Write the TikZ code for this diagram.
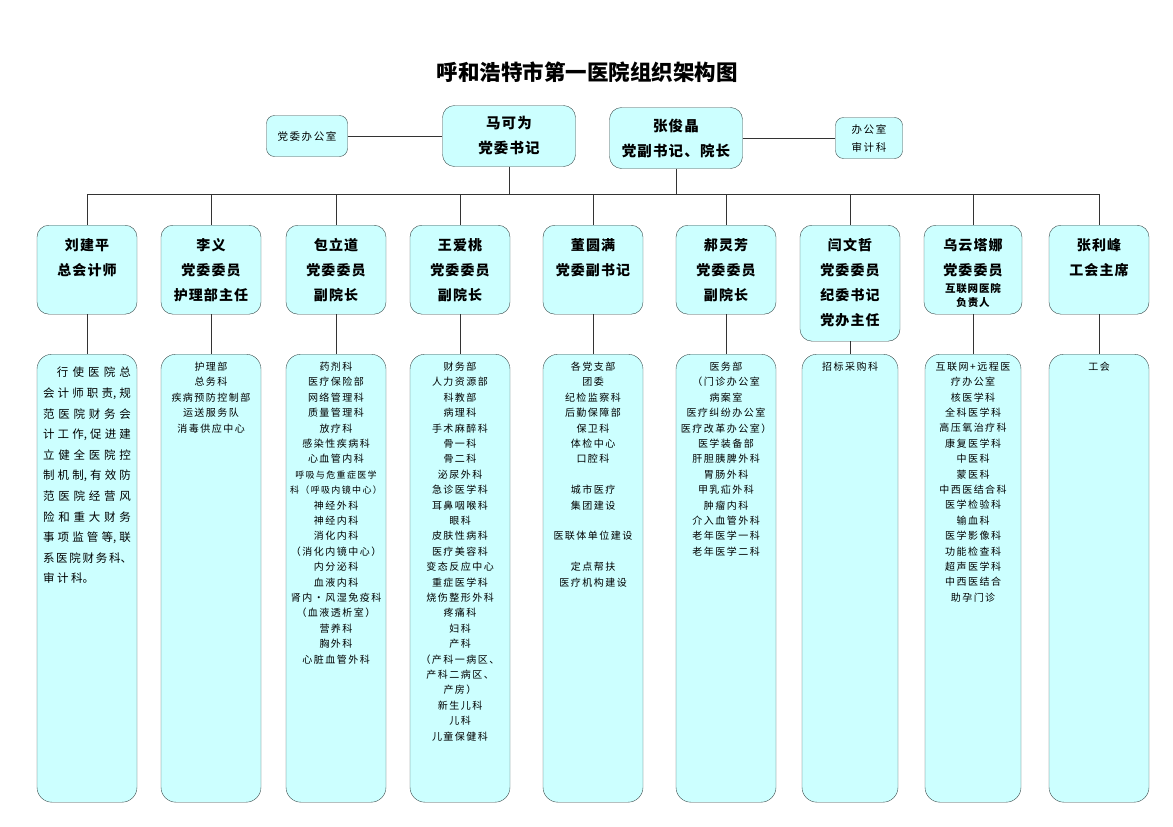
\documentclass[tikz,border=0pt]{standalone}
\usepackage{fontspec}
\setmainfont{Noto Sans CJK SC}
\newfontfamily\bodyfont[LetterSpace=15]{Noto Sans CJK SC}
\newfontfamily\headfont[LetterSpace=8]{Noto Sans CJK SC}
\usepackage{xcolor}
\usetikzlibrary{positioning}

\definecolor{boxfill}{HTML}{CCFFFF}
\definecolor{boxline}{HTML}{3C4C4C}
\definecolor{linec}{HTML}{333333}

% text set from the top of a box of fixed size
\newcommand{\topalign}[4]{\parbox[c][#1][t]{#2}{\centering\vspace*{#3}#4\par}}
\newcommand{\jline}[1]{\makebox[88pt][s]{#1}}

\begin{document}
\begin{tikzpicture}[
        x=1pt, y=-1pt,
        leader/.style={rectangle, draw=boxline, fill=boxfill, rounded corners=12pt, minimum width=133pt, minimum height=61pt, align=center, font=\headfont\bfseries\fontsize{14.5}{25}\selectfont},
        office/.style={rectangle, draw=boxline, fill=boxfill, rounded corners=8pt, minimum height=41pt, align=center, font=\bodyfont\fontsize{10.5}{18}\selectfont},
        head/.style={rectangle, draw=boxline, fill=boxfill, rounded corners=12pt, inner sep=2pt, anchor=north, font=\headfont\bfseries\fontsize{14}{25}\selectfont},
        dept/.style={rectangle, draw=boxline, fill=boxfill, rounded corners=15pt, inner sep=0pt, anchor=north, font=\bodyfont\fontsize{10}{15.4}\selectfont},
        link/.style={draw=linec, line width=0.8pt}
    ]
        \useasboundingbox (0,0) rectangle (1173,827);

        % Nodes
        \node[font=\bfseries\fontsize{21.5}{25}\selectfont] (title) at (587,72) {呼和浩特市第一医院组织架构图};

        \node[office, minimum width=81pt] (dwoffice) at (307,136) {党委办公室};
        \node[leader] (ma) at (509,136) {马可为\\党委书记};
        \node[leader] (zhangj) at (676,138) {张俊晶\\党副书记、院长};
        \node[office, minimum width=67pt] (office) at (869,138) {办公室\\审计科};

        \coordinate (busl) at (87,194);
        \coordinate (busr) at (1099,194);

        \node[head] (liu) at (87,225) {\topalign{85pt}{96pt}{11pt}{刘建平\par 总会计师}};
        \node[head] (li) at (211,225) {\topalign{85pt}{96pt}{11pt}{李义\par 党委委员\par 护理部主任}};
        \node[head] (bao) at (336,225) {\topalign{85pt}{96pt}{11pt}{包立道\par 党委委员\par 副院长}};
        \node[head] (wang) at (460,225) {\topalign{85pt}{96pt}{11pt}{王爱桃\par 党委委员\par 副院长}};
        \node[head] (dong) at (593,225) {\topalign{85pt}{96pt}{11pt}{董圆满\par 党委副书记}};
        \node[head] (hao) at (726,225) {\topalign{85pt}{96pt}{11pt}{郝灵芳\par 党委委员\par 副院长}};
        \node[head] (yan) at (850,225) {\topalign{112pt}{96pt}{11pt}{闫文哲\par 党委委员\par 纪委书记\par 党办主任}};
        \node[head] (wu) at (973,225) {\topalign{85pt}{94pt}{11pt}{乌云塔娜\par 党委委员\par
            {\fontsize{10.5}{17.5}\selectfont 互联网医院\par}{\fontsize{10.5}{13.5}\selectfont 负责人\par}}};
        \node[head] (zhangl) at (1099,225) {\topalign{85pt}{96pt}{11pt}{张利峰\par 工会主席}};

        \node[dept] (liudept) at (87,354) {\topalign{448pt}{100pt}{13pt}{\rmfamily\fontsize{11.5}{20.6}\selectfont
            \makebox[88pt][r]{\makebox[74pt][s]{行 使 医 院 总}}\\
            \jline{会 计 师 职 责, 规}\\
            \jline{范 医 院 财 务 会}\\
            \jline{计 工 作, 促 进 建}\\
            \jline{立 健 全 医 院 控}\\
            \jline{制 机 制, 有 效 防}\\
            \jline{范 医 院 经 营 风}\\
            \jline{险 和 重 大 财 务}\\
            \jline{事 项 监 管 等, 联}\\
            \jline{系 医 院 财 务 科、}\\
            \makebox[88pt][l]{审 计 科。}}};
        \node[dept] (lidept) at (211,354) {\topalign{448pt}{100pt}{7.8pt}{护理部\\总务科\\疾病预防控制部\\运送服务队\\消毒供应中心}};
        \node[dept] (baodept) at (336,354) {\topalign{448pt}{100pt}{7.8pt}{药剂科\\医疗保险部\\网络管理科\\质量管理科\\放疗科\\感染性疾病科\\心血管内科\\
            {\fontsize{9}{15.4}\selectfont 呼吸与危重症医学\\科（呼吸内镜中心）}\\
            神经外科\\神经内科\\消化内科\\（消化内镜中心）\\内分泌科\\血液内科\\肾内·风湿免疫科\\（血液透析室）\\营养科\\胸外科\\心脏血管外科}};
        \node[dept] (wangdept) at (460,354) {\topalign{448pt}{100pt}{7.8pt}{财务部\\人力资源部\\科教部\\病理科\\手术麻醉科\\骨一科\\骨二科\\泌尿外科\\急诊医学科\\耳鼻咽喉科\\眼科\\皮肤性病科\\医疗美容科\\变态反应中心\\重症医学科\\烧伤整形外科\\疼痛科\\妇科\\产科\\（产科一病区、\\产科二病区、\\产房）\\新生儿科\\儿科\\儿童保健科}};
        \node[dept] (dongdept) at (593,354) {\topalign{448pt}{100pt}{7.8pt}{各党支部\\团委\\纪检监察科\\后勤保障部\\保卫科\\体检中心\\口腔科\\[15.4pt]
            城市医疗\\集团建设\\[15.4pt]医联体单位建设\\[15.4pt]定点帮扶\\医疗机构建设}};
        \node[dept] (haodept) at (726,354) {\topalign{448pt}{100pt}{7.8pt}{医务部\\（门诊办公室\\病案室\\医疗纠纷办公室\\医疗改革办公室）\\医学装备部\\肝胆胰脾外科\\胃肠外科\\甲乳疝外科\\肿瘤内科\\介入血管外科\\老年医学一科\\老年医学二科}};
        \node[dept] (yandept) at (850,354) {\topalign{448pt}{96pt}{7.8pt}{招标采购科}};
        \node[dept] (wudept) at (973,354) {\topalign{448pt}{96pt}{7.8pt}{互联网+远程医\\疗办公室\\核医学科\\全科医学科\\高压氧治疗科\\康复医学科\\中医科\\蒙医科\\中西医结合科\\医学检验科\\输血科\\医学影像科\\功能检查科\\超声医学科\\中西医结合\\助孕门诊}};
        \node[dept] (zhangldept) at (1099,354) {\topalign{448pt}{100pt}{7.8pt}{工会}};

        % Lines
        \draw[link] (dwoffice) -- (ma);
        \draw[link] (zhangj) -- (office);
        \draw[link] (ma) -- (ma |- busl);
        \draw[link] (zhangj) -- (zhangj |- busl);
        \draw[link] (busl) -- (busr);

        \draw[link] (liu.north) -- (liu.north |- busl);
        \draw[link] (li.north) -- (li.north |- busl);
        \draw[link] (bao.north) -- (bao.north |- busl);
        \draw[link] (wang.north) -- (wang.north |- busl);
        \draw[link] (dong.north) -- (dong.north |- busl);
        \draw[link] (hao.north) -- (hao.north |- busl);
        \draw[link] (yan.north) -- (yan.north |- busl);
        \draw[link] (wu.north) -- (wu.north |- busl);
        \draw[link] (zhangl.north) -- (zhangl.north |- busl);

        \draw[link] (liu) -- (liudept);
        \draw[link] (li) -- (lidept);
        \draw[link] (bao) -- (baodept);
        \draw[link] (wang) -- (wangdept);
        \draw[link] (dong) -- (dongdept);
        \draw[link] (hao) -- (haodept);
        \draw[link] (yan) -- (yandept);
        \draw[link] (wu) -- (wudept);
        \draw[link] (zhangl) -- (zhangldept);
    \end{tikzpicture}
\end{document}
